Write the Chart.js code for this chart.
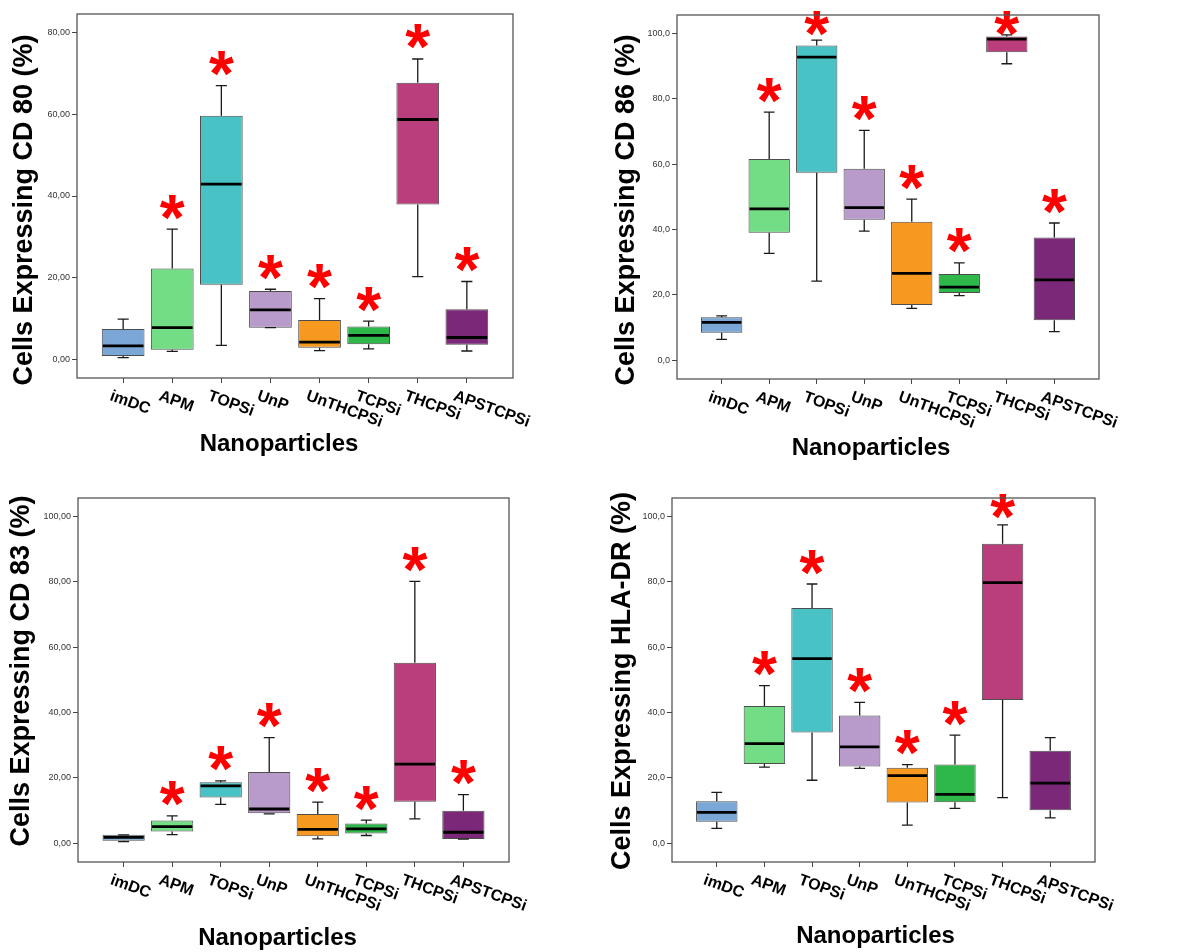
<!DOCTYPE html>
<html>
<head>
<meta charset="utf-8">
<title>Cells expressing maturation markers by nanoparticle</title>
<script src="https://cdn.jsdelivr.net/npm/chart.js@4.4.0/dist/chart.umd.min.js"></script>
<style>
  html, body { margin: 0; padding: 0; background: #fff; }
  body { width: 1179px; height: 952px; position: relative; overflow: hidden; }
  canvas { position: absolute; }
</style>
</head>
<body>
<canvas id="cd80" width="600" height="470" style="left:0;top:0"></canvas>
<canvas id="cd86" width="579" height="470" style="left:600px;top:0"></canvas>
<canvas id="cd83" width="600" height="472" style="left:0;top:480px"></canvas>
<canvas id="hladr" width="579" height="472" style="left:600px;top:480px"></canvas>
<script>
const categories = ['imDC', 'APM', 'TOPSi', 'UnP', 'UnTHCPSi', 'TCPSi', 'THCPSi', 'APSTCPSi'];
const boxColors = ['#7aa7d6', '#72dd84', '#49c2c5', '#b89bcb', '#f7991f', '#2eb84a', '#ba3e7b', '#7b2878'];

// CD 80
const cd80Min    = [0.5, 2.0, 3.5, 7.8, 2.2, 2.6, 20.3, 2.1];
const cd80Q1     = [0.9, 2.4, 18.3, 7.8, 2.9, 3.75, 37.9, 3.6];
const cd80Median = [3.35, 7.8, 42.9, 12.15, 4.25, 5.9, 58.7, 5.4];
const cd80Q3     = [7.5, 22.3, 59.6, 16.8, 9.7, 8.1, 67.7, 12.3];
const cd80Max    = [9.9, 31.9, 67.0, 17.2, 14.9, 9.4, 73.5, 19.1];
const cd80Star   = [0, 1, 1, 1, 1, 1, 1, 1];
const cd80Ticks  = [0, 20, 40, 60, 80];

// CD 86
const cd86Min    = [6.4, 32.7, 24.2, 39.5, 15.9, 19.8, 90.7, 8.8];
const cd86Q1     = [8.45, 39.0, 57.4, 43.0, 16.9, 20.6, 94.2, 12.3];
const cd86Median = [11.6, 46.3, 92.7, 46.7, 26.6, 22.4, 98.2, 24.6];
const cd86Q3     = [13.2, 61.6, 96.3, 58.6, 42.4, 26.4, 99.0, 37.6];
const cd86Max    = [13.6, 75.9, 97.9, 70.3, 49.3, 29.8, 99.5, 42.0];
const cd86Star   = [0, 1, 1, 1, 1, 1, 1, 1];
const cd86Ticks  = [0, 20, 40, 60, 80, 100];

// CD 83
const cd83Min    = [0.5, 2.7, 11.9, 9.0, 1.4, 2.4, 7.5, 1.3];
const cd83Q1     = [0.8, 3.6, 14.0, 9.2, 2.2, 3.0, 12.7, 1.3];
const cd83Median = [1.8, 5.1, 17.6, 10.5, 4.3, 4.4, 24.2, 3.4];
const cd83Q3     = [2.6, 7.0, 18.7, 21.8, 9.0, 6.1, 55.2, 10.0];
const cd83Max    = [2.6, 8.4, 19.1, 32.3, 12.6, 7.1, 80.1, 14.9];
const cd83Star   = [0, 1, 1, 1, 1, 1, 1, 1];
const cd83Ticks  = [0, 20, 40, 60, 80, 100];

// HLA-DR
const hlaMin    = [4.6, 23.3, 19.3, 22.9, 5.6, 10.7, 14.0, 7.8];
const hlaQ1     = [6.6, 24.3, 33.9, 23.5, 12.5, 12.6, 43.8, 10.1];
const hlaMedian = [9.5, 30.5, 56.5, 29.5, 20.7, 15.0, 79.7, 18.4];
const hlaQ3     = [12.9, 42.0, 72.0, 39.1, 23.1, 24.1, 91.6, 28.3];
const hlaMax    = [15.6, 48.2, 79.3, 43.1, 24.1, 33.1, 97.4, 32.3];
const hlaStar   = [0, 1, 1, 1, 1, 1, 1, 0];
const hlaTicks  = [0, 20, 40, 60, 80, 100];

const FONT = "'Liberation Sans', Arial, Helvetica, sans-serif";

// whiskers, medians, asterisks, frame, rotated category labels and titles
const boxParts = {
    id: 'boxParts',
    afterDatasetsDraw(chart) {
        const p = chart.options.plugins.boxParts;
        const xs = chart.scales.x, ys = chart.scales.y;
        const ctx = chart.ctx;
        const top = chart.chartArea.top;
        ctx.save();
        chart.getDatasetMeta(0).data.forEach((bar, i) => {
            const cx = xs.getPixelForValue(i);
            const half = bar.width / 2;
            const cap = bar.width * 0.13;
            const yMax = ys.getPixelForValue(p.max[i]);
            const yMin = ys.getPixelForValue(p.min[i]);
            const yQ1 = ys.getPixelForValue(p.q1[i]);
            const yQ3 = ys.getPixelForValue(p.q3[i]);
            const yMed = ys.getPixelForValue(p.median[i]);

            ctx.strokeStyle = '#1a1a1a';
            ctx.lineWidth = 1.3;
            ctx.beginPath();
            ctx.moveTo(cx, yQ3); ctx.lineTo(cx, yMax);
            ctx.moveTo(cx - cap, yMax); ctx.lineTo(cx + cap, yMax);
            ctx.moveTo(cx, yQ1); ctx.lineTo(cx, yMin);
            ctx.moveTo(cx - cap, yMin); ctx.lineTo(cx + cap, yMin);
            ctx.stroke();

            ctx.strokeStyle = '#000';
            ctx.lineWidth = 2.8;
            ctx.beginPath();
            ctx.moveTo(cx - half + 1, yMed); ctx.lineTo(cx + half - 1, yMed);
            ctx.stroke();

            if (p.star[i]) {
                const cy = Math.max(yMax - 22, top + 8);
                ctx.font = 'bold 64px ' + FONT;
                ctx.fillStyle = '#ff0000';
                ctx.textAlign = 'center';
                ctx.textBaseline = 'alphabetic';
                const m = ctx.measureText('*');
                ctx.fillText('*', cx, cy + (m.actualBoundingBoxAscent - m.actualBoundingBoxDescent) / 2);
            }
        });
        ctx.restore();
    },
    afterDraw(chart) {
        const p = chart.options.plugins.boxParts;
        const ca = chart.chartArea;
        const xs = chart.scales.x;
        const ctx = chart.ctx;
        ctx.save();
        ctx.strokeStyle = '#555';
        ctx.lineWidth = 1.3;
        ctx.strokeRect(ca.left, ca.top, ca.right - ca.left, ca.bottom - ca.top);

        ctx.fillStyle = '#000';
        ctx.font = 'bold 16px ' + FONT;
        ctx.textAlign = 'left';
        ctx.textBaseline = 'top';
        categories.forEach((c, i) => {
            ctx.save();
            ctx.translate(xs.getPixelForValue(i) - 10, ca.bottom + 10);
            ctx.rotate(20 * Math.PI / 180);
            ctx.fillText(c, 0, 0);
            ctx.restore();
        });

        ctx.textAlign = 'center';
        ctx.textBaseline = 'middle';
        ctx.font = 'bold 24px ' + FONT;
        ctx.fillText('Nanoparticles', (ca.left + ca.right) / 2 + p.xTitleDx, ca.bottom + p.xTitleDy);

        ctx.save();
        ctx.translate(ca.left + p.yTitleDx, (ca.top + ca.bottom) / 2 + p.yTitleDy);
        ctx.rotate(-Math.PI / 2);
        ctx.font = 'bold 27px ' + FONT;
        ctx.fillText(p.yTitle, 0, 0);
        ctx.restore();
        ctx.restore();
    }
};

function makeChart(id, cfg) {
    return new Chart(document.getElementById(id), {
        type: 'bar',
        data: {
            datasets: [{
                data: categories.map((c, i) => ({ x: i, y: [cfg.q1[i], cfg.q3[i]] })),
                backgroundColor: boxColors,
                borderColor: '#4d4d4d',
                borderWidth: 1,
                borderSkipped: false,
                barPercentage: 0.87,
                categoryPercentage: 1
            }]
        },
        options: {
            responsive: false,
            animation: false,
            devicePixelRatio: 1,
            layout: { padding: cfg.padding },
            plugins: {
                legend: { display: false },
                tooltip: { enabled: false },
                boxParts: {
                    min: cfg.min, q1: cfg.q1, median: cfg.median, q3: cfg.q3, max: cfg.max, star: cfg.star,
                    yTitle: cfg.yTitle, yTitleDx: cfg.yTitleDx, yTitleDy: cfg.yTitleDy,
                    xTitleDx: cfg.xTitleDx, xTitleDy: cfg.xTitleDy
                }
            },
            scales: {
                x: {
                    type: 'linear',
                    min: -0.94,
                    max: 7.94,
                    offset: false,
                    afterBuildTicks: s => { s.ticks = categories.map((c, i) => ({ value: i })); },
                    afterFit: s => { s.height = cfg.xAxisH; },
                    ticks: { display: false },
                    grid: { offset: false, drawOnChartArea: false, drawTicks: true, tickLength: 5, color: '#444', lineWidth: 1 },
                    border: { display: false }
                },
                y: {
                    min: cfg.yMin,
                    max: cfg.yMax,
                    afterBuildTicks: s => { s.ticks = cfg.ticks.map(v => ({ value: v })); },
                    afterFit: s => { s.width = cfg.yAxisW; },
                    ticks: {
                        autoSkip: false,
                        padding: 2,
                        color: '#333',
                        font: { family: FONT, size: 9 },
                        callback: v => v.toFixed(cfg.decimals).replace('.', ',')
                    },
                    grid: { drawOnChartArea: false, drawTicks: true, tickLength: 5, color: '#444', lineWidth: 1 },
                    border: { display: false }
                }
            }
        },
        plugins: [boxParts]
    });
}

makeChart('cd80', {
    min: cd80Min, q1: cd80Q1, median: cd80Median, q3: cd80Q3, max: cd80Max, star: cd80Star,
    ticks: cd80Ticks, decimals: 2, yMin: -4.5, yMax: 84.5,
    padding: { top: 14, right: 87, left: 0, bottom: 0 }, yAxisW: 77, xAxisH: 92,
    yTitle: 'Cells Expressing CD 80 (%)', yTitleDx: -52, yTitleDy: 14, xTitleDx: -16, xTitleDy: 66
});

makeChart('cd86', {
    min: cd86Min, q1: cd86Q1, median: cd86Median, q3: cd86Q3, max: cd86Max, star: cd86Star,
    ticks: cd86Ticks, decimals: 1, yMin: -5.7, yMax: 105.6,
    padding: { top: 15, right: 80, left: 0, bottom: 0 }, yAxisW: 77, xAxisH: 91,
    yTitle: 'Cells Expressing CD 86 (%)', yTitleDx: -50, yTitleDy: 13, xTitleDx: -17, xTitleDy: 69
});

makeChart('cd83', {
    min: cd83Min, q1: cd83Q1, median: cd83Median, q3: cd83Q3, max: cd83Max, star: cd83Star,
    ticks: cd83Ticks, decimals: 2, yMin: -5.7, yMax: 105.6,
    padding: { top: 18, right: 91, left: 0, bottom: 0 }, yAxisW: 78, xAxisH: 90,
    yTitle: 'Cells Expressing CD 83 (%)', yTitleDx: -56, yTitleDy: -9, xTitleDx: -16, xTitleDy: 76
});

makeChart('hladr', {
    min: hlaMin, q1: hlaQ1, median: hlaMedian, q3: hlaQ3, max: hlaMax, star: hlaStar,
    ticks: hlaTicks, decimals: 1, yMin: -5.7, yMax: 105.6,
    padding: { top: 18, right: 84, left: 0, bottom: 0 }, yAxisW: 72, xAxisH: 90,
    yTitle: 'Cells Expressing HLA-DR (%)', yTitleDx: -49.5, yTitleDy: 1, xTitleDx: -8, xTitleDy: 74
});
</script>
</body>
</html>
